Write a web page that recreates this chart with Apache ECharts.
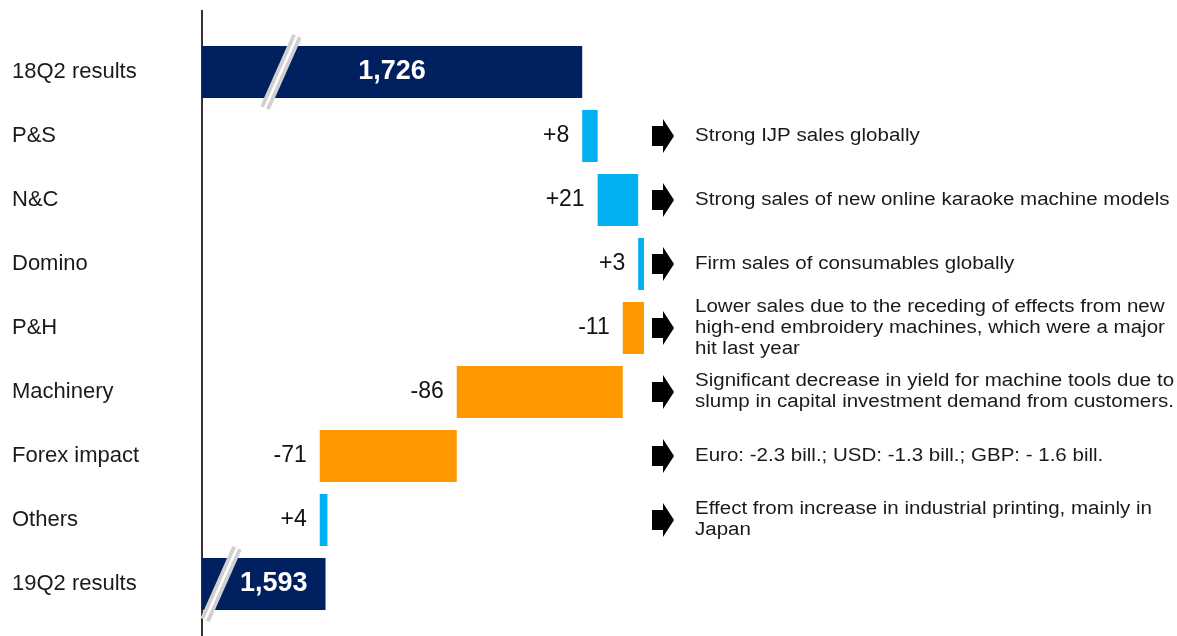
<!DOCTYPE html>
<html>
<head>
<meta charset="utf-8">
<script src="https://cdn.jsdelivr.net/npm/echarts@6/dist/echarts.min.js"></script>
<style>
  html, body { margin: 0; padding: 0; background: #fff; }
  #chart { width: 1177px; height: 636px; }
</style>
</head>
<body>
<div id="chart"></div>
<script>
// 行の並び（上から）
const categories = ['18Q2 results', 'P&S', 'N&C', 'Domino', 'P&H', 'Machinery', 'Forex impact', 'Others', '19Q2 results']
const startTotal = 1726
const changes    = [8, 21, 3, -11, -86, -71, 4]
const endTotal   = 1593
const notes = [
  '',
  'Strong IJP sales globally',
  'Strong sales of new online karaoke machine models',
  'Firm sales of consumables globally',
  'Lower sales due to the receding of effects from new\nhigh-end embroidery machines, which were a major\nhit last year',
  'Significant decrease in yield for machine tools due to\nslump in capital investment demand from customers.',
  'Euro: -2.3 bill.; USD: -1.3 bill.; GBP: - 1.6 bill.',
  'Effect from increase in industrial printing, mainly in\nJapan',
  ''
]

const NAVY = '#002060', UP = '#00B0F0', DOWN = '#FF9900'
const FONT = '"Liberation Sans", Arial, sans-serif'

// waterfall: transparent base + visible bar
const baseData  = [0]
const deltaData = [{
  value: startTotal,
  itemStyle: { color: NAVY },
  label: { position: 'inside', color: '#fff', fontWeight: 'bold', fontSize: 27,
           formatter: startTotal.toLocaleString('en-US') }
}]
let running = startTotal
changes.forEach(c => {
  const next = running + c
  baseData.push(Math.min(running, next))
  deltaData.push({
    value: Math.abs(c),
    itemStyle: { color: c >= 0 ? UP : DOWN },
    label: { formatter: (c >= 0 ? '+' : '') + c }
  })
  running = next
})
baseData.push(0)
deltaData.push({
  value: endTotal,
  itemStyle: { color: NAVY },
  label: { position: 'insideRight', distance: 18, color: '#fff', fontWeight: 'bold', fontSize: 27,
           formatter: endTotal.toLocaleString('en-US') }
})

const chart = echarts.init(document.getElementById('chart'))

chart.setOption({
  backgroundColor: '#fff',
  animation: false,
  textStyle: { fontFamily: FONT },
  grid: { left: 202, right: 10, top: 40, bottom: 20 },
  xAxis: {
    type: 'value', min: 1529, max: 2029,
    show: false, splitLine: { show: false }
  },
  yAxis: {
    type: 'category',
    data: categories,
    inverse: true,
    axisLine: { show: false },
    axisTick: { show: false },
    axisLabel: {
      align: 'left', margin: 190,
      color: '#1a1a1a', fontSize: 22, fontFamily: FONT
    }
  },
  series: [
    {
      name: 'base', type: 'bar', stack: 'wf', barWidth: 52,
      itemStyle: { color: 'transparent' },
      emphasis: { disabled: true },
      data: baseData
    },
    {
      name: 'delta', type: 'bar', stack: 'wf', barWidth: 52,
      label: {
        show: true, position: 'left', distance: 13,
        color: '#111', fontSize: 23, fontFamily: FONT
      },
      data: deltaData
    },
    {
      // 切れ目マーク（//）
      name: 'break', type: 'custom', silent: true, z: 5,
      data: [[startTotal, 0, 79], [endTotal, categories.length - 1, 19]],
      renderItem(params, api) {
        const cs = params.coordSys
        const yc = api.coord([api.value(0), api.value(1)])[1]
        const xc = cs.x + api.value(2)
        const dx = 16, dy = 36
        const line = (w, c) => ({
          type: 'line',
          shape: { x1: xc - dx, y1: yc + dy, x2: xc + dx, y2: yc - dy },
          style: { stroke: c, lineWidth: w }
        })
        return {
          type: 'group',
          children: [line(10, '#d0d0d0'), line(2.5, '#ffffff')]
        }
      }
    },
    {
      // 右側の矢印と説明文
      name: 'notes', type: 'custom', silent: true,
      data: notes.map((t, i) => [1529, i, t]).filter(d => d[2]),
      renderItem(params, api) {
        const cs = params.coordSys
        const yc = api.coord([api.value(0), api.value(1)])[1]
        const x0 = cs.x + 450
        const text = notes[api.value(1)]
        return {
          type: 'group',
          children: [
            {
              type: 'polygon',
              shape: { points: [
                [x0, yc - 10], [x0 + 11, yc - 10], [x0 + 11, yc - 17], [x0 + 22, yc],
                [x0 + 11, yc + 17], [x0 + 11, yc + 10], [x0, yc + 10]
              ] },
              style: { fill: '#000' }
            },
            {
              type: 'text',
              x: x0 + 43, y: yc, scaleX: 1.14,
              style: {
                text: text, fill: '#1a1a1a', font: '18px ' + FONT,
                lineHeight: 21, verticalAlign: 'middle', align: 'left'
              }
            }
          ]
        }
      }
    }
  ],
  graphic: [{
    type: 'line',
    shape: { x1: 202, y1: 10, x2: 202, y2: 636 },
    style: { stroke: '#333', lineWidth: 2 }
  }]
})
</script>
</body>
</html>
